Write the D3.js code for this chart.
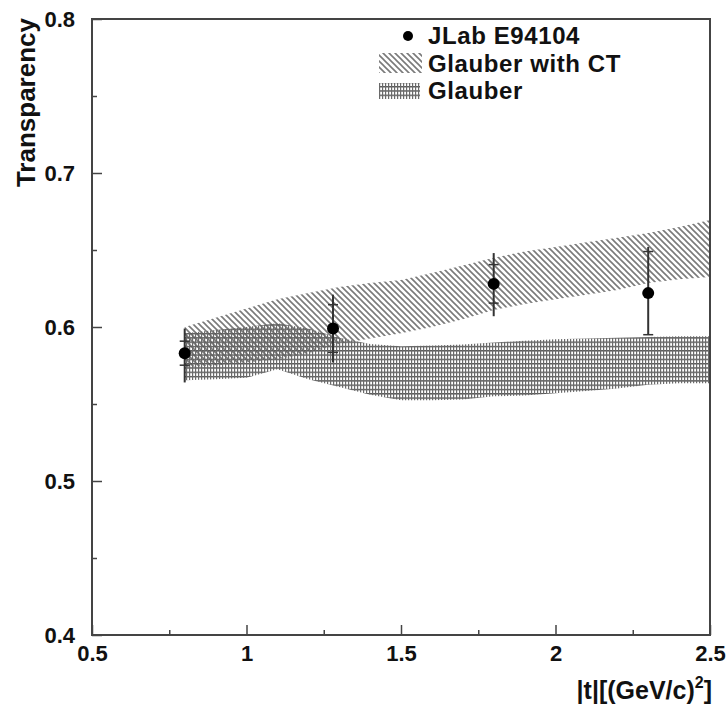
<!DOCTYPE html>
<html>
<head>
<meta charset="utf-8">
<script src="https://cdn.jsdelivr.net/npm/d3@7"></script>
<style>
  body { margin: 0; background: #fff; }
  text { font-family: "Liberation Sans", Arial, sans-serif; font-weight: bold; fill: #111; }
</style>
</head>
<body>
<div id="chart"></div>
<script>
// data points (JLab E94104)
var tPoints = [0.8, 1.28, 1.8, 2.3];
var transPoints = [0.583, 0.599, 0.628, 0.622];
var statErr = [0.0078, 0.0155, 0.0125, 0.027];
var totErrUp = [0.016, 0.022, 0.020, 0.030];
var totErrDown = [0.019, 0.022, 0.021, 0.027];

// theory bands
var tBand = [0.8, 0.9, 1.0, 1.1, 1.2, 1.3, 1.4, 1.5, 1.6, 1.7, 1.8, 1.9, 2.0, 2.1, 2.2, 2.3, 2.4, 2.5];
var ctHigh = [0.600, 0.606, 0.612, 0.618, 0.622, 0.626, 0.6285, 0.6305, 0.635, 0.640, 0.645, 0.649, 0.652, 0.655, 0.658, 0.661, 0.665, 0.6695];
var ctLow = [0.574, 0.575, 0.577, 0.579, 0.583, 0.589, 0.5925, 0.596, 0.600, 0.605, 0.611, 0.615, 0.618, 0.621, 0.624, 0.6285, 0.631, 0.6325];
var glHigh = [0.596, 0.598, 0.600, 0.6025, 0.599, 0.593, 0.589, 0.5875, 0.588, 0.5886, 0.590, 0.591, 0.592, 0.5925, 0.593, 0.5935, 0.594, 0.594];
var glLow = [0.5655, 0.566, 0.567, 0.5725, 0.566, 0.561, 0.556, 0.5525, 0.5525, 0.553, 0.555, 0.5555, 0.557, 0.5585, 0.560, 0.5625, 0.5635, 0.5635];

// axes ticks
var xTicks = [0.5, 1, 1.5, 2, 2.5];
var xMinorTicks = [0.75, 1.25, 1.75, 2.25];
var yTicks = [0.4, 0.5, 0.6, 0.7, 0.8];
var yMinorTicks = [0.45, 0.55, 0.65, 0.75];

var legendLabels = ["JLab E94104", "Glauber with CT", "Glauber"];

var svgWidth = 728;
var svgHeight = 704;
var margin = { top: 19, right: 18, bottom: 69, left: 92 };
var width = svgWidth - margin.left - margin.right;
var height = svgHeight - margin.top - margin.bottom;

var svg = d3.select("#chart")
  .append("svg")
  .attr("width", svgWidth)
  .attr("height", svgHeight);

// fill patterns
var defs = svg.append("defs");
var hatch = defs.append("pattern")
  .attr("id", "hatchCT")
  .attr("patternUnits", "userSpaceOnUse")
  .attr("width", 6)
  .attr("height", 6);
hatch.append("path")
  .attr("d", "M0,0 L6,6 M-1,5 L1,7 M5,-1 L7,1")
  .attr("stroke", "#7a7a7a")
  .attr("stroke-width", 1.6);

var grid = defs.append("pattern")
  .attr("id", "gridGl")
  .attr("patternUnits", "userSpaceOnUse")
  .attr("width", 3)
  .attr("height", 4.3);
grid.append("rect").attr("x", 0).attr("y", 0).attr("width", 3).attr("height", 1.4).attr("fill", "#555");
grid.append("rect").attr("x", 1).attr("y", 0).attr("width", 1.2).attr("height", 4.3).attr("fill", "#6a6a6a");

var chartGroup = svg.append("g")
  .attr("transform", `translate(${margin.left}, ${margin.top})`);

var x = d3.scaleLinear().domain([0.5, 2.5]).range([0, width]);
var y = d3.scaleLinear().domain([0.4, 0.8]).range([height, 0]);

// bands
var ctData = tBand.map((t, i) => ({ t: t, lo: ctLow[i], hi: ctHigh[i] }));
var glData = tBand.map((t, i) => ({ t: t, lo: glLow[i], hi: glHigh[i] }));

var area = d3.area()
  .x(d => x(d.t))
  .y0(d => y(d.lo))
  .y1(d => y(d.hi));

chartGroup.append("path")
  .datum(ctData)
  .attr("d", area)
  .attr("fill", "url(#hatchCT)");

chartGroup.append("path")
  .datum(glData)
  .attr("d", area)
  .attr("fill", "url(#gridGl)");

// axes: minor ticks, then major ticks with labels
chartGroup.append("g")
  .attr("transform", `translate(0, ${height})`)
  .call(d3.axisBottom(x).tickValues(xMinorTicks).tickSize(-5).tickFormat(""))
  .call(g => g.select(".domain").remove());
chartGroup.append("g")
  .call(d3.axisLeft(y).tickValues(yMinorTicks).tickSize(-5).tickFormat(""))
  .call(g => g.select(".domain").remove());

var xAxis = chartGroup.append("g")
  .attr("transform", `translate(0, ${height})`)
  .call(d3.axisBottom(x).tickValues(xTicks).tickSize(-10).tickPadding(10).tickFormat(d3.format("~g")));
xAxis.select(".domain").remove();

var yAxis = chartGroup.append("g")
  .call(d3.axisLeft(y).tickValues(yTicks).tickSize(-10).tickPadding(17).tickFormat(d3.format(".1f")));
yAxis.select(".domain").remove();

chartGroup.selectAll(".tick line").attr("stroke", "#444").attr("stroke-width", 1.5);
chartGroup.selectAll(".tick text")
  .attr("font-size", 22)
  .attr("font-family", "Liberation Sans, Arial, sans-serif")
  .attr("font-weight", "bold")
  .attr("fill", "#111");

// frame
chartGroup.append("rect")
  .attr("width", width)
  .attr("height", height)
  .attr("fill", "none")
  .attr("stroke", "#444")
  .attr("stroke-width", 2);

// error bars and points
var pts = tPoints.map((t, i) => ({ t: t, v: transPoints[i], s: statErr[i], up: totErrUp[i], dn: totErrDown[i] }));

var errGroup = chartGroup.selectAll(".err")
  .data(pts)
  .enter()
  .append("g")
  .attr("class", "err");

errGroup.append("line")
  .attr("x1", d => x(d.t))
  .attr("x2", d => x(d.t))
  .attr("y1", d => y(d.v + d.up))
  .attr("y2", d => y(d.v - d.dn))
  .attr("stroke", "#333")
  .attr("stroke-width", 2);

errGroup.append("line")
  .attr("x1", d => x(d.t) - 5)
  .attr("x2", d => x(d.t) + 5)
  .attr("y1", d => y(d.v + d.s))
  .attr("y2", d => y(d.v + d.s))
  .attr("stroke", "#333")
  .attr("stroke-width", 1.5);

errGroup.append("line")
  .attr("x1", d => x(d.t) - 5)
  .attr("x2", d => x(d.t) + 5)
  .attr("y1", d => y(d.v - d.s))
  .attr("y2", d => y(d.v - d.s))
  .attr("stroke", "#333")
  .attr("stroke-width", 1.5);

chartGroup.selectAll(".pt")
  .data(pts)
  .enter()
  .append("circle")
  .attr("class", "pt")
  .attr("cx", d => x(d.t))
  .attr("cy", d => y(d.v))
  .attr("r", 6)
  .attr("fill", "#000");

// legend
var legend = svg.append("g");
legend.append("circle").attr("cx", 408).attr("cy", 36).attr("r", 5).attr("fill", "#000");
legend.append("rect").attr("x", 379).attr("y", 53).attr("width", 43).attr("height", 20).attr("fill", "url(#hatchCT)");
legend.append("rect").attr("x", 379).attr("y", 83).attr("width", 41).attr("height", 16).attr("fill", "url(#gridGl)");

legend.selectAll(".leg")
  .data(legendLabels)
  .enter()
  .append("text")
  .attr("class", "leg")
  .attr("x", 428)
  .attr("y", (d, i) => [44, 72, 99][i])
  .attr("font-size", 24)
  .attr("letter-spacing", 0.6)
  .text(d => d);

// axis titles
svg.append("text")
  .attr("transform", "translate(35, 18) rotate(-90)")
  .attr("text-anchor", "end")
  .attr("font-size", 26)
  .text("Transparency");

var xTitle = svg.append("text")
  .attr("x", 712)
  .attr("y", 699)
  .attr("text-anchor", "end")
  .attr("font-size", 25);
xTitle.append("tspan").text("|t|[(GeV/c)");
xTitle.append("tspan").attr("dy", -11).attr("font-size", 16).text("2");
xTitle.append("tspan").attr("dy", 11).text("]");
</script>
</body>
</html>
